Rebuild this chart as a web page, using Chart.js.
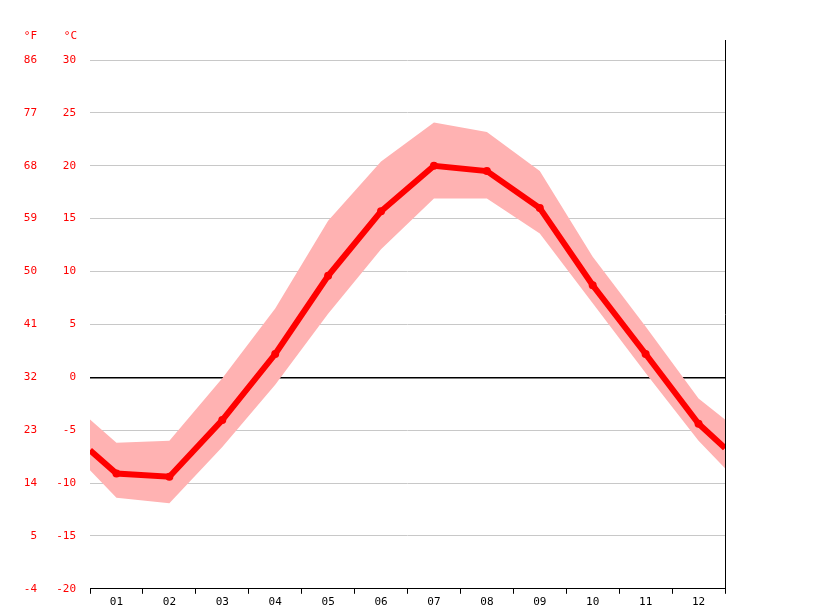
<!DOCTYPE html>
<html>
<head>
<meta charset="utf-8">
<script src="https://cdn.jsdelivr.net/npm/chart.js@4"></script>
<style>
  body { margin: 0; background: #fff; }
  #wrap { width: 815px; height: 611px; }
</style>
</head>
<body>
<div id="wrap"><canvas id="climaChart" width="815" height="611"></canvas></div>
<script>
// Datos del gráfico
const meses = ['01', '02', '03', '04', '05', '06', '07', '08', '09', '10', '11', '12'];
const posX = [0, 0.5, 1.5, 2.5, 3.5, 4.5, 5.5, 6.5, 7.5, 8.5, 9.5, 10.5, 11.5, 12];
const tempMedia = [-6.9, -9.1, -9.4, -4.05, 2.2, 9.6, 15.7, 20.0, 19.5, 16.0, 8.7, 2.2, -4.4, -6.7];
const tempMax = [-4.0, -6.2, -6.0, -0.1, 6.5, 14.8, 20.4, 24.1, 23.2, 19.5, 11.4, 4.8, -2.0, -4.0];
const tempMin = [-8.8, -11.4, -11.9, -6.6, -0.7, 6.0, 12.1, 16.9, 16.9, 13.6, 7.0, 0.4, -6.0, -8.6];
const ticksC = [-20, -15, -10, -5, 0, 5, 10, 15, 20, 25, 30];
const ticksF = [-4, 5, 14, 23, 32, 41, 50, 59, 68, 77, 86];

const fuente = "'DejaVu Sans Mono', monospace";
const rojo = '#ff0000';

const puntos = arr => arr.map((v, i) => ({ x: posX[i], y: v }));

// Plugin: etiquetas °F, unidades y borde derecho
const extras = {
    id: 'extras',
    afterDraw(chart) {
        const ctx = chart.ctx;
        const y = chart.scales.y;
        const area = chart.chartArea;
        ctx.save();
        ctx.font = "11px " + fuente;
        ctx.fillStyle = rojo;
        ctx.textAlign = 'right';
        ctx.textBaseline = 'middle';
        ticksC.forEach((c, i) => {
            ctx.fillText(String(ticksF[i]), 37, y.getPixelForValue(c));
        });
        ctx.fillText('°F', 37, 36);
        ctx.fillText('°C', 77, 36);
        ctx.strokeStyle = '#000';
        ctx.lineWidth = 1;
        ctx.beginPath();
        ctx.moveTo(area.right + 0.5, 40);
        ctx.lineTo(area.right + 0.5, area.bottom);
        ctx.stroke();
        ctx.restore();
    }
};

const ctx = document.getElementById('climaChart').getContext('2d');
new Chart(ctx, {
    type: 'line',
    data: {
        datasets: [
            {
                data: puntos(tempMax),
                borderWidth: 0,
                pointRadius: 0,
                backgroundColor: 'rgba(255, 178, 178, 1)',
                fill: '+1',
                tension: 0,
                order: 2
            },
            {
                data: puntos(tempMin),
                borderWidth: 0,
                pointRadius: 0,
                fill: false,
                tension: 0,
                order: 3
            },
            {
                data: puntos(tempMedia),
                borderColor: rojo,
                borderWidth: 6,
                pointRadius: ctx => (ctx.dataIndex === 0 || ctx.dataIndex === posX.length - 1) ? 0 : 4,
                pointBackgroundColor: rojo,
                pointBorderWidth: 0,
                fill: false,
                tension: 0,
                order: 1
            }
        ]
    },
    options: {
        responsive: false,
        animation: false,
        layout: { padding: { top: 60, right: 90, bottom: 0, left: 0 } },
        plugins: { legend: { display: false }, tooltip: { enabled: false } },
        scales: {
            x: {
                type: 'linear',
                min: 0,
                max: 12,
                afterBuildTicks: s => { s.ticks = []; for (let i = 0; i <= 24; i++) s.ticks.push({ value: i / 2 }); },
                ticks: {
                    autoSkip: false,
                    maxRotation: 0,
                    color: '#000',
                    font: { family: fuente, size: 11 },
                    padding: 2,
                    callback: v => (v % 1 === 0.5) ? meses[Math.floor(v)] : ''
                },
                grid: {
                    drawOnChartArea: false,
                    tickLength: 5,
                    color: c => (c.tick && c.tick.value % 1 === 0) ? '#000' : 'rgba(0,0,0,0)'
                },
                border: { color: '#000' }
            },
            y: {
                min: -20,
                max: 30,
                afterBuildTicks: s => { s.ticks = ticksC.map(v => ({ value: v })); },
                afterFit: s => { s.width = 90; },
                ticks: {
                    color: rojo,
                    font: { family: fuente, size: 11 },
                    padding: 14
                },
                grid: {
                    drawTicks: false,
                    color: c => (c.tick && c.tick.value === 0) ? '#000' : '#c8c8c8',
                    lineWidth: c => (c.tick && c.tick.value === 0) ? 1.5 : 1
                },
                border: { display: false }
            }
        }
    },
    plugins: [extras]
});
</script>
</body>
</html>
